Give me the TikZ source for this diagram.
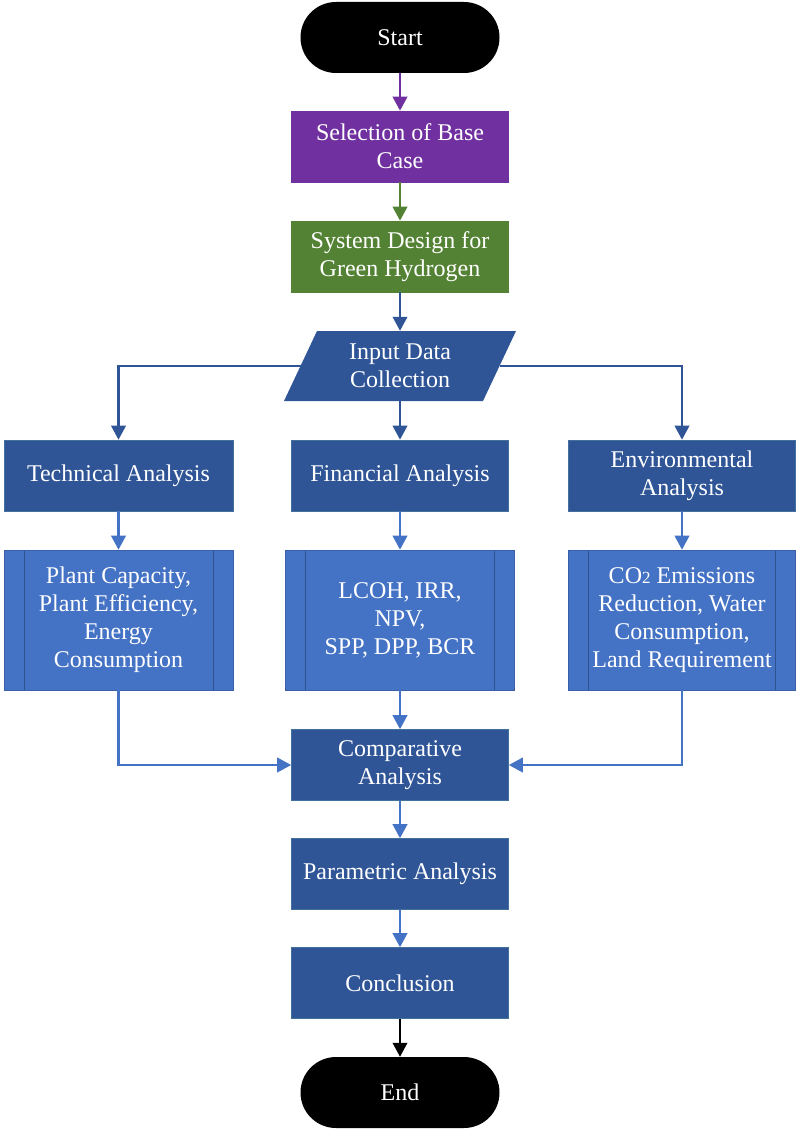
\documentclass[tikz,border=0pt]{standalone}
\usepackage{fontspec}
\setmainfont{Liberation Serif}
\usetikzlibrary{arrows.meta}
\definecolor{purp}{HTML}{7030A0}
\definecolor{grn}{HTML}{548235}
\definecolor{dblue}{HTML}{2F5597}
\definecolor{mblue}{HTML}{4472C4}
\definecolor{edgeblue}{HTML}{41719C}
\definecolor{lineblue}{HTML}{2F528F}
\begin{document}
\begin{tikzpicture}[x=1pt,y=-1pt,
  txt/.style={text=white,align=center,font=\fontsize{24}{28}\selectfont,inner sep=0pt},
  term/.style={txt,fill=black,minimum width=199pt,minimum height=71pt,rounded corners=35.5pt},
  box/.style={txt,minimum width=217pt,minimum height=71pt,draw=edgeblue,line width=0.6pt},
  proc/.style={txt,fill=mblue,draw=mblue!85!black,line width=0.6pt,minimum height=140pt,
    path picture={
      \draw[lineblue,line width=0.8pt]
        ([xshift=20pt]path picture bounding box.north west) -- ([xshift=20pt]path picture bounding box.south west)
        ([xshift=-20pt]path picture bounding box.north east) -- ([xshift=-20pt]path picture bounding box.south east);
    }},
  arr/.style={line width=2.2pt,-{Triangle[length=14pt,width=14.5pt]}}
]
\useasboundingbox (0,0) rectangle (795,1131);

% terminals and main column
\node[term] (start) at (400,37.5) {Start};
\node[box,fill=purp,draw=purp] (sel) at (400,146.5) {Selection of Base\\Case};
\node[box,fill=grn,draw=grn] (sys) at (400,256.5) {System Design for\\Green Hydrogen};

% input data (parallelogram)
\fill[dblue] (284,401) -- (317,331) -- (516,331) -- (483,401) -- cycle;
\node[txt,minimum width=170pt,minimum height=70pt] (inp) at (400,366) {Input Data\\Collection};
\coordinate (inL) at (300.5,366);
\coordinate (inR) at (499.5,366);

% analysis row
\node[box,fill=dblue,minimum width=229pt] (tech) at (118.5,475.5) {Technical Analysis};
\node[box,fill=dblue] (fin) at (400,475.5) {Financial Analysis};
\node[box,fill=dblue,minimum width=227pt] (env) at (682,475.5) {Environmental\\Analysis};

% result blocks
\node[proc,minimum width=229pt] (techp) at (118.5,620) {Plant Capacity,\\Plant Efficiency,\\Energy\\Consumption};
\node[proc,minimum width=229pt] (finp) at (400,620) {LCOH, IRR,\\NPV,\\SPP, DPP, BCR};
\node[proc,minimum width=227pt] (envp) at (682,620) {CO\raisebox{-0.5pt}{\fontsize{17}{17}\selectfont 2} Emissions\\Reduction,\hspace{6pt}Water\\Consumption,\\Land Requirement};

% lower column
\node[box,fill=dblue] (comp) at (400,765) {Comparative\\Analysis};
\node[box,fill=dblue] (par) at (400,874) {Parametric Analysis};
\node[box,fill=dblue] (conc) at (400,983) {Conclusion};
\node[term] (end) at (400,1092.5) {End};

% connectors
\draw[arr,purp] (start) -- (sel);
\draw[arr,grn] (sel) -- (sys);
\draw[arr,dblue] (sys) -- (inp);
\draw[arr,dblue] (inL) -| (tech);
\draw[arr,dblue] (inp) -- (fin);
\draw[arr,dblue] (inR) -| (env);
\draw[arr,mblue] (tech) -- (techp);
\draw[arr,mblue] (fin) -- (finp);
\draw[arr,mblue] (env) -- (envp);
\draw[arr,mblue] (techp.south) |- (comp.west);
\draw[arr,mblue] (finp) -- (comp);
\draw[arr,mblue] (envp.south) |- (comp.east);
\draw[arr,mblue] (comp) -- (par);
\draw[arr,mblue] (par) -- (conc);
\draw[arr,black] (conc) -- (end);
\end{tikzpicture}
\end{document}
